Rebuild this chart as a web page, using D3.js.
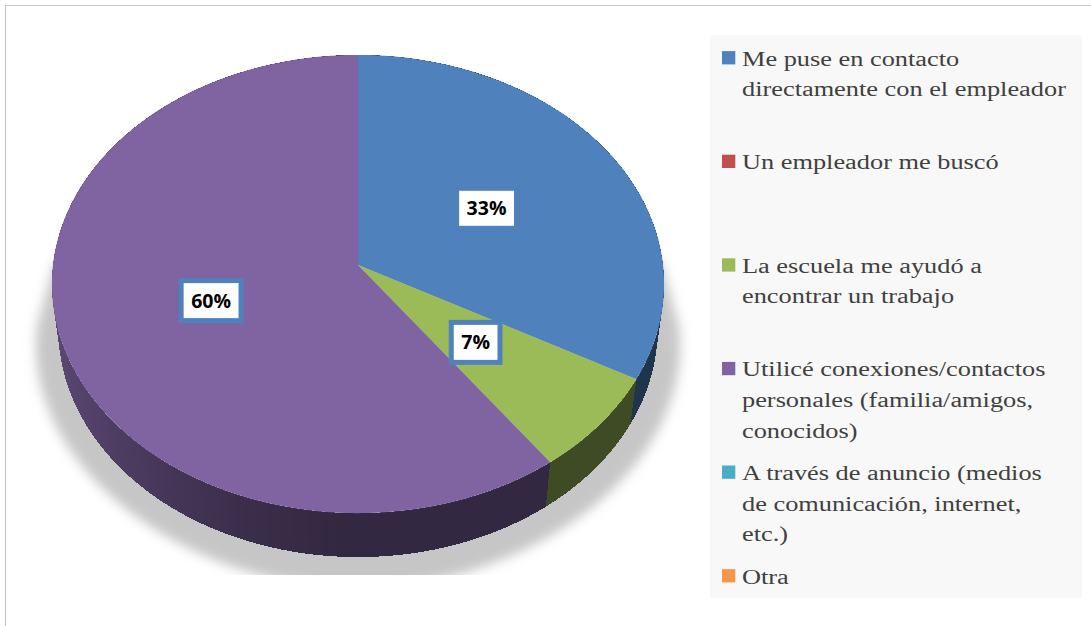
<!DOCTYPE html>
<html><head><meta charset="utf-8">
<script src="https://cdn.jsdelivr.net/npm/d3@7"></script>
<style>body{margin:0;background:#fff}svg{display:block}</style>
</head><body>
<svg id="c" width="1091" height="626"></svg>
<script>
const categories = [
  "Me puse en contacto directamente con el empleador",
  "Un empleador me buscó",
  "La escuela me ayudó a encontrar un trabajo",
  "Utilicé conexiones/contactos personales (familia/amigos, conocidos)",
  "A través de anuncio (medios de comunicación, internet, etc.)",
  "Otra"
];
const values = [33, 0, 7, 60, 0, 0];
const colors = ["#4F81BD", "#C0504D", "#9BBB59", "#8064A2", "#4BACC6", "#F79646"];

const svg = d3.select("#c");
const defs = svg.append("defs");

// chart frame (top + left edges visible)
svg.append("path").attr("d", "M5.5,626 V5.5 H1091")
  .attr("fill", "none").attr("stroke", "#c9c9c9").attr("stroke-width", 1.2);

// 3D perspective projection of a unit pie
const P = {cx: 358, cy: 265, S: 305, sn: 0.746, cs: 0.666, D: 8.02, h: 0.229};
function proj(a, r, lvl) {
  const x3 = r * Math.sin(a), z3 = -r * Math.cos(a), y3 = lvl;
  const up = y3 * P.cs - z3 * P.sn;
  const d = z3 * P.cs + y3 * P.sn;
  const k = P.D / (P.D - d);
  return [P.cx + P.S * x3 * k, P.cy - P.S * up * k];
}

const total = d3.sum(values);
const pie = d3.pie().sort(null).value(d => d)(values);
const arcs = pie.map((p, i) => ({...p, i})).filter(p => p.endAngle > p.startAngle);

// shadow
const blur = defs.append("filter").attr("id", "blur").attr("x", "-20%").attr("y", "-20%").attr("width", "140%").attr("height", "140%");
blur.append("feGaussianBlur").attr("stdDeviation", 6);
defs.append("clipPath").attr("id", "shclip").append("rect")
  .attr("x", 0).attr("y", 0).attr("width", 705).attr("height", 575);
const shPts = [];
const a0 = Math.PI * 0.5, a1 = Math.PI * 1.5;
const tl = proj(a1, 1, 0), tr = proj(a0, 1, 0);
shPts.push([tl[0] + 2, tl[1] - 4]);
for (let a = a1; a >= a0 - 1e-9; a -= 0.02) {
  const p = proj(a, 1, -P.h);
  const t = Math.abs(Math.sin(a));
  shPts.push([P.cx + (p[0] - P.cx) * 1.075, p[1] + 16 + 18 * (1 - t)]);
}
shPts.push([tr[0] - 2, tr[1] - 4]);
svg.append("g").attr("clip-path", "url(#shclip)")
  .append("path").attr("d", d3.line()(shPts) + "Z")
  .attr("fill", "#c6c6c6").attr("filter", "url(#blur)");

// side walls
const quads = [];
arcs.forEach(p => {
  const base = d3.rgb(colors[p.i]);
  const n = Math.max(2, Math.ceil((p.endAngle - p.startAngle) / (Math.PI / 360)));
  const step = (p.endAngle - p.startAngle) / n;
  for (let j = 0; j < n; j++) {
    const b0 = p.startAngle + j * step;
    const b1 = Math.min(p.endAngle, b0 + step * 1.6), m = b0 + step / 2;
    const f = 0.40 + 0.32 * Math.pow(Math.max(0, -Math.sin(m)), 1.5);
    const col = d3.rgb(base.r * f, base.g * f, base.b * f).formatHex();
    quads.push({
      pts: [proj(b0, 1, 0), proj(b1, 1, 0), proj(b1, 1.0, -P.h), proj(b0, 1, -P.h)],
      z: -Math.cos(m), col
    });
  }
});
quads.sort((a, b) => a.z - b.z);
svg.append("g").selectAll("path").data(quads).join("path")
  .attr("d", q => d3.line()(q.pts) + "Z")
  .attr("fill", q => q.col).attr("shape-rendering", "crispEdges");

// top faces
svg.append("g").selectAll("path").data(arcs).join("path")
  .attr("d", p => {
    const pts = [proj(0, 0, 0)];
    const n = Math.max(2, Math.ceil((p.endAngle - p.startAngle) / (Math.PI / 360)));
    for (let j = 0; j <= n; j++) pts.push(proj(p.startAngle + (p.endAngle - p.startAngle) * j / n, 1, 0));
    return d3.line()(pts) + "Z";
  })
  .attr("fill", p => colors[p.i]);

// data labels
const fmt = d3.format(".0%");
const lab = svg.append("g").selectAll("g").data(arcs).join("g")
  .attr("transform", p => {
    const c = proj((p.startAngle + p.endAngle) / 2, 0.5, 0);
    return `translate(${c[0]},${c[1]})`;
  });
lab.append("rect").attr("class", "box");
lab.append("text")
  .attr("text-anchor", "middle").attr("dy", "0.36em")
  .attr("font-family", "'Open Sans', Lato, sans-serif").attr("font-weight", 700)
  .attr("font-size", 19.5).attr("fill", "#000")
  .text(p => fmt(p.value / total));
lab.each(function() {
  const g = d3.select(this);
  const w = g.select("text").node().getComputedTextLength() + 15;
  const hh = 35;
  g.select("rect").attr("x", -w / 2 - 2.5).attr("y", -hh / 2 - 2.5)
    .attr("width", w + 5).attr("height", hh + 5)
    .attr("fill", "#fff").attr("stroke", "#4F81BD").attr("stroke-width", 5);
});

// legend
svg.append("rect").attr("x", 710).attr("y", 35).attr("width", 372).attr("height", 563).attr("fill", "#F8F8F8");
const legStart = 57.7, legStep = 103.6, lineH = 30.7, sx = 1.22, maxW = 329;
const leg = svg.append("g").selectAll("g").data(categories).join("g");
leg.append("rect")
  .attr("x", 722).attr("y", (d, i) => legStart + i * legStep - 6.6)
  .attr("width", 13.3).attr("height", 13.3)
  .attr("fill", (d, i) => colors[i]);
leg.each(function(d, i) {
  const g = d3.select(this).append("g")
    .attr("transform", `translate(742,${legStart + i * legStep + 7.8}) scale(${sx},1)`);
  const t = g.append("text")
    .attr("font-family", "'Liberation Serif', 'Times New Roman', serif")
    .attr("font-size", 21.6).attr("fill", "#404040");
  const words = d.split(" ");
  let lines = [], cur = "";
  const probe = t.append("tspan").attr("x", 0);
  words.forEach(w => {
    const test = cur ? cur + " " + w : w;
    probe.text(test);
    if (probe.node().getComputedTextLength() * sx > maxW && cur) {
      lines.push(cur); cur = w;
    } else cur = test;
  });
  lines.push(cur);
  probe.remove();
  lines.forEach((l, k) => t.append("tspan").attr("x", 0).attr("y", k * lineH).text(l));
});
</script>
</body></html>
